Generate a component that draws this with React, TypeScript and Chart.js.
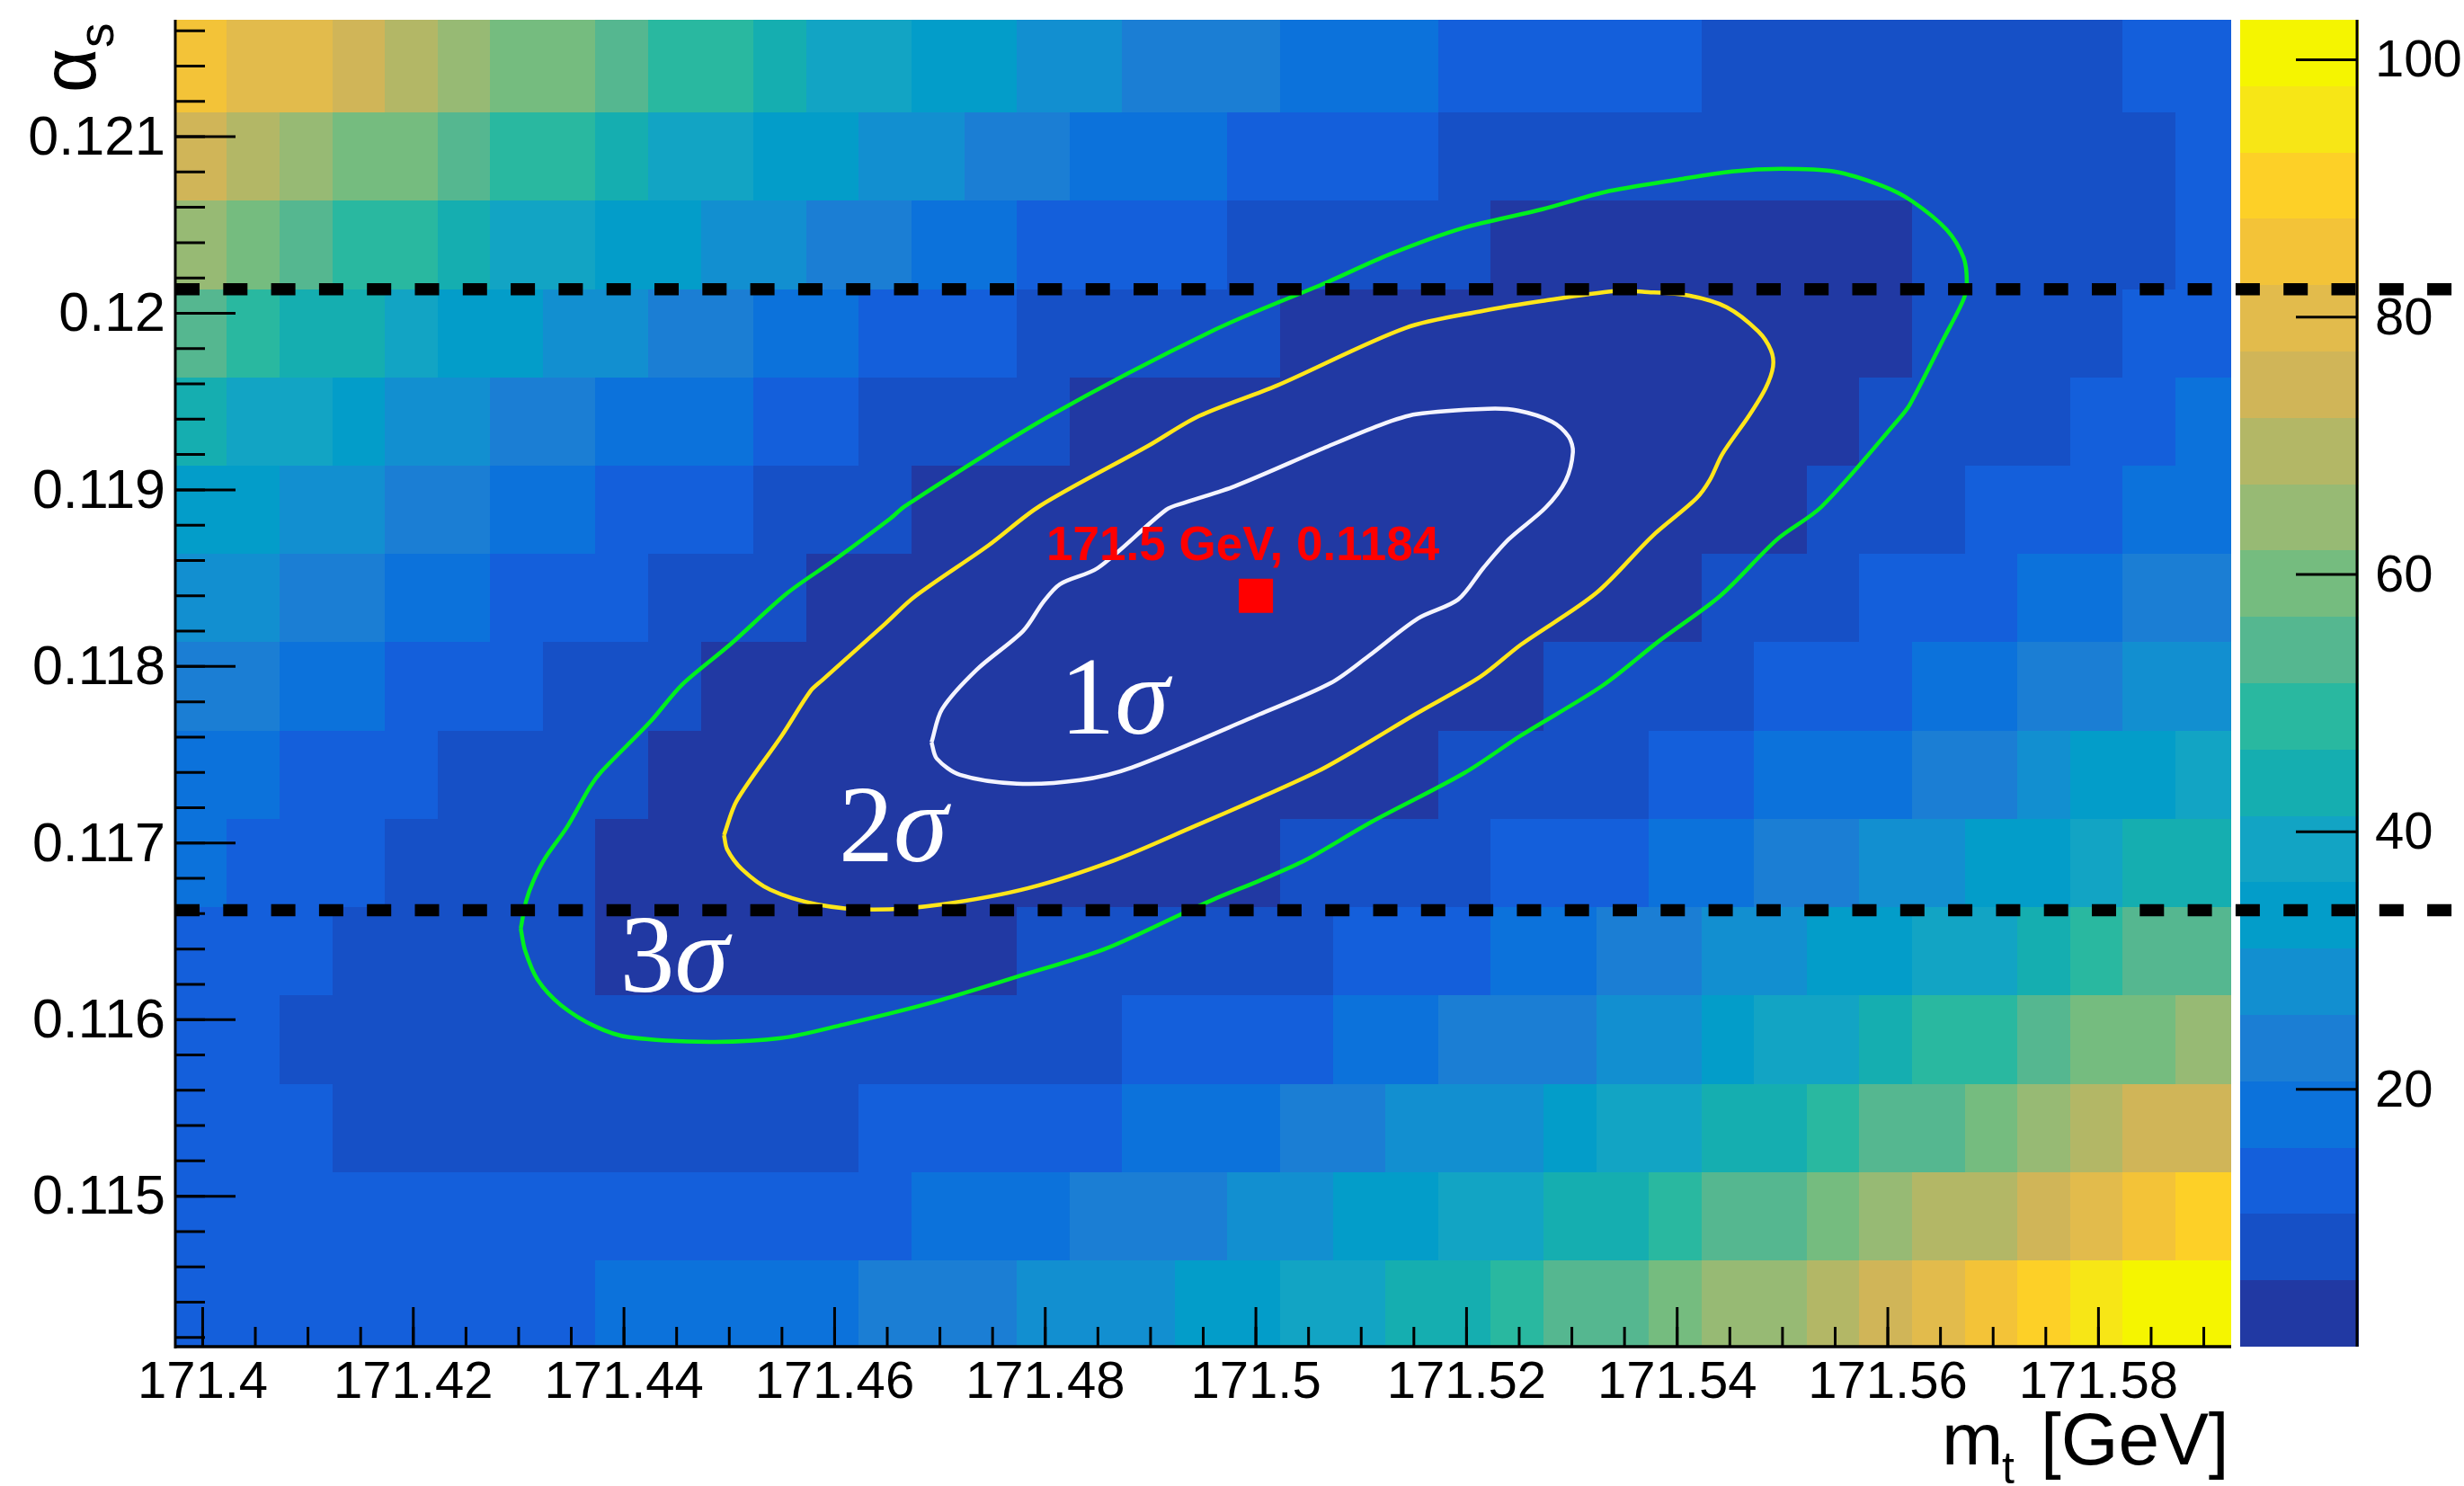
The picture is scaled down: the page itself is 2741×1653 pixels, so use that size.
import React, { useEffect, useRef } from "react";
import { Chart, registerables } from "chart.js";

Chart.register(...registerables);

const F = (n: number, v: number): number[] => Array(n).fill(v);

// Palette, lowest band first
const palette = ["#2139A3","#1650C6","#145FDB","#0C72DB","#1B7ED4","#128FD0","#039DC9","#12A4C4","#15AEB0","#29B8A0","#55B790","#75BC7F","#97BA74","#B3B766","#D0B558","#E2BB4C","#F3C338","#FDD027","#F7E616","#F5F500"];
const zMax = 103.1;

const xMin = 171.3974, xMax = 171.5926;
const yMin = 0.114148, yMax = 0.121662;
const firstColEdge = 171.3973, colWidth = 0.005;
const firstRowEdge = 0.114137, rowHeight = 0.0005;

// Heat-map rows, lowest alpha_s first
const row00 = [...F(8,13),...F(5,18),23,23,23,28,28,28,34,34,39,39,44,44,49,54,54,59,64,64,70,75,80,85,90,95,100,100];
const row01 = [...F(14,13),18,18,18,23,23,23,28,28,34,34,39,39,44,44,49,54,54,59,64,70,70,75,80,85,90];
const row02 = [13,13,13,...F(10,8),...F(5,13),18,18,18,23,23,28,28,28,34,39,39,44,44,49,54,54,59,64,70,75,75];
const row03 = [13,13,...F(16,8),...F(4,13),18,18,23,23,23,28,28,34,39,39,44,49,49,54,59,59,64];
const row04 = [13,13,13,8,8,8,8,8,...F(8,3),...F(6,8),13,13,13,18,18,23,23,28,28,34,34,39,39,44,49,54,54];
const row05 = [18,13,13,13,8,8,8,8,...F(13,3),...F(4,8),13,13,13,18,18,23,23,28,28,34,34,39,44,44];
const row06 = [18,18,13,13,13,8,8,8,8,...F(15,3),...F(4,8),13,13,18,18,18,23,23,28,34,34,39];
const row07 = [23,23,18,18,13,13,13,8,8,8,...F(16,3),...F(4,8),13,13,13,18,18,23,23,28,28];
const row08 = [28,28,23,23,18,18,13,13,13,8,8,8,...F(17,3),8,8,8,13,13,13,18,18,23,23];
const row09 = [34,34,28,28,23,23,18,18,13,13,13,8,8,8,...F(17,3),8,8,8,13,13,13,18,18];
const row10 = [44,39,39,34,28,28,23,23,18,18,18,13,13,8,8,8,8,...F(15,3),...F(4,8),13,13,18];
const row11 = [54,49,44,44,39,34,34,28,28,23,23,18,18,13,13,13,8,8,8,8,8,...F(12,3),...F(4,8),13,13];
const row12 = [64,59,54,49,49,44,39,39,34,34,28,28,23,23,18,18,13,13,13,13,8,8,8,8,8,...F(8,3),...F(5,8),13];
const row13 = [75,70,64,59,59,54,49,49,44,39,39,34,34,28,28,23,23,18,18,18,13,13,13,13,...F(14,8),13];
const row14 = [85,80,80,75,70,64,59,59,54,49,49,44,39,39,34,34,28,28,23,23,23,18,18,18,13,13,13,13,13,...F(8,8),13,13];
const heatRows = [row00,row01,row02,row03,row04,row05,row06,row07,row08,row09,row10,row11,row12,row13,row14];

// Ticks
const xMajor = [171.4,171.42,171.44,171.46,171.48,171.5,171.52,171.54,171.56,171.58];
const xLabels = ["171.4","171.42","171.44","171.46","171.48","171.5","171.52","171.54","171.56","171.58"];
const yMajor = [0.115,0.116,0.117,0.118,0.119,0.12,0.121];
const yLabels = ["0.115","0.116","0.117","0.118","0.119","0.12","0.121"];
const zMajor = [20,40,60,80,100];
const zLabels = ["20","40","60","80","100"];
const xMinorStart = 171.4, xMinorStep = 0.005, xMinorCount = 39;
const yMinorStart = 0.1142, yMinorStep = 0.0002, yMinorCount = 38;

// Contours
const green3sMt = [171.4302,171.4307,171.4314,171.4325,171.4346,171.4368,171.4379,171.4425,171.4455,171.4501,171.4555,171.4601,171.4653,171.4667,171.4801,171.4961,171.5068,171.5127,171.5196,171.5272,171.5331,171.5401,171.5452,171.5499,171.5549,171.5595,171.5623,171.5656,171.5672,171.5675,171.5672,171.5653,171.5621,171.5610,171.5537,171.5495,171.5441,171.5383,171.5329,171.5252,171.5198,171.5109,171.5047,171.5003,171.4961,171.4929,171.4856,171.4772,171.4687,171.4608,171.4549,171.4482,171.4405,171.4373,171.4340,171.4318,171.4306,171.4302];
const green3sAs = [0.116516,0.116669,0.116786,0.116913,0.117091,0.117320,0.117407,0.117687,0.117896,0.118125,0.118415,0.118608,0.118838,0.118909,0.119408,0.119907,0.120177,0.120334,0.120482,0.120589,0.120686,0.120757,0.120803,0.120818,0.120803,0.120721,0.120635,0.120472,0.120314,0.120177,0.120080,0.119856,0.119484,0.119398,0.118904,0.118720,0.118400,0.118145,0.117891,0.117610,0.117397,0.117117,0.116903,0.116786,0.116684,0.116597,0.116399,0.116241,0.116088,0.115971,0.115895,0.115874,0.115900,0.115961,0.116083,0.116226,0.116394,0.116516];
const yellow2sMt = [171.4495,171.4507,171.4550,171.4577,171.4588,171.4648,171.4676,171.4746,171.4795,171.4898,171.4946,171.5020,171.5142,171.5216,171.5272,171.5341,171.5369,171.5411,171.5447,171.5477,171.5489,171.5491,171.5484,171.5468,171.5443,171.5431,171.5418,171.5376,171.5323,171.5252,171.5213,171.5151,171.5101,171.5059,171.5003,171.4942,171.4866,171.4784,171.4702,171.4637,171.4583,171.4539,171.4512,171.4498,171.4495];
const yellow2sAs = [0.117045,0.117239,0.117610,0.117860,0.117921,0.118242,0.118395,0.118685,0.118909,0.119250,0.119418,0.119591,0.119917,0.120014,0.120070,0.120126,0.120121,0.120100,0.120034,0.119897,0.119790,0.119698,0.119576,0.119418,0.119204,0.119056,0.118950,0.118736,0.118415,0.118125,0.117941,0.117728,0.117549,0.117407,0.117254,0.117096,0.116903,0.116745,0.116653,0.116623,0.116653,0.116735,0.116852,0.116964,0.117045];
const white1sMt = [171.4692,171.4702,171.4735,171.4779,171.4798,171.4814,171.4850,171.4915,171.4933,171.4980,171.5064,171.5118,171.5152,171.5220,171.5249,171.5281,171.5297,171.5301,171.5294,171.5275,171.5240,171.5216,171.5192,171.5154,171.5107,171.5071,171.5003,171.4882,171.4833,171.4773,171.4719,171.4697,171.4692];
const white1sAs = [0.117570,0.117758,0.117982,0.118201,0.118364,0.118466,0.118558,0.118888,0.118929,0.119021,0.119235,0.119367,0.119428,0.119459,0.119449,0.119387,0.119301,0.119214,0.119051,0.118899,0.118720,0.118558,0.118379,0.118272,0.118059,0.117906,0.117728,0.117427,0.117356,0.117336,0.117386,0.117478,0.117570];

// Horizontal limits, which run past the plot and colour bar
const limitUpper = 0.120136, limitLower = 0.116619, limitXEnd = 171.6137;
const bestMt = 171.5, bestAs = 0.1184;
const bestLabel = "171.5 GeV, 0.1184";
const sigmaLabels = [
  { digit: "1", mt: 171.4814, as: 0.117621 },
  { digit: "2", mt: 171.4604, as: 0.116898 },
  { digit: "3", mt: 171.4396, as: 0.116159 },
];

const SANS = '"Liberation Sans", Arial, sans-serif';
const SERIF = '"Liberation Serif", "Times New Roman", serif';
const PLOT_TOP = 22;

const zip = (xs: number[], ys: number[]) => xs.map((x, i) => ({ x, y: ys[i] }));

const heatPlugin = {
  id: "heat",
  afterLayout(chart: any) {
    // Pin the plot's top edge: both vertical scales share it
    chart.chartArea.top = PLOT_TOP;
    chart.chartArea.height = chart.chartArea.bottom - PLOT_TOP;
    ["y", "z"].forEach((id) => {
      const s = chart.scales[id];
      s.top = PLOT_TOP;
      s.height = s.bottom - PLOT_TOP;
      s.configure();
    });
  },
  beforeDatasetsDraw(chart: any) {
    const { ctx, chartArea: a, scales } = chart;
    const { x, y, z } = scales;
    const bw = zMax / palette.length;
    ctx.save();
    heatRows.forEach((row: number[], r: number) => {
      const top = r === heatRows.length - 1 ? a.top : Math.round(y.getPixelForValue(firstRowEdge + (r + 1) * rowHeight));
      const bottom = r === 0 ? a.bottom : Math.round(y.getPixelForValue(firstRowEdge + r * rowHeight));
      row.forEach((v: number, c: number) => {
        const left = c === 0 ? a.left : Math.round(x.getPixelForValue(firstColEdge + c * colWidth));
        const right = c === row.length - 1 ? a.right : Math.round(x.getPixelForValue(firstColEdge + (c + 1) * colWidth));
        ctx.fillStyle = palette[Math.min(palette.length - 1, Math.floor(v / bw))];
        ctx.fillRect(left, top, right - left, bottom - top);
      });
    });
    // colour bar
    const barL = a.right + 10, barW = 132;
    palette.forEach((col, i) => {
      const t = Math.round(z.getPixelForValue((i + 1) * bw));
      const b = Math.round(z.getPixelForValue(i * bw));
      ctx.fillStyle = col;
      ctx.fillRect(barL, t, barW, b - t);
    });
    ctx.restore();
  },
  afterDatasetsDraw(chart: any) {
    const { ctx, chartArea: a, scales } = chart;
    const { x, y, z } = scales;
    ctx.save();
    ctx.strokeStyle = "#000";
    const line = (x1: number, y1: number, x2: number, y2: number, w: number) => {
      ctx.lineWidth = w;
      ctx.beginPath();
      ctx.moveTo(x1, y1);
      ctx.lineTo(x2, y2);
      ctx.stroke();
    };
    for (let i = 0; i < xMinorCount; i++) {
      const p = x.getPixelForValue(xMinorStart + i * xMinorStep);
      line(p, a.bottom, p, a.bottom - 22, 3);
    }
    xMajor.forEach((v) => {
      const p = x.getPixelForValue(v);
      line(p, a.bottom, p, a.bottom - 44, 3);
    });
    for (let i = 0; i < yMinorCount; i++) {
      const p = y.getPixelForValue(yMinorStart + i * yMinorStep);
      line(a.left, p, a.left + 33, p, 3);
    }
    yMajor.forEach((v) => {
      const p = y.getPixelForValue(v);
      line(a.left, p, a.left + 67, p, 3);
    });
    line(a.left, a.top, a.left, a.bottom + 2, 3);
    line(a.left - 1, a.bottom, a.right, a.bottom, 3.5);
    const barAxis = a.right + 140;
    line(barAxis, a.top, barAxis, a.bottom, 3);
    zMajor.forEach((v) => {
      const p = z.getPixelForValue(v);
      line(barAxis, p, barAxis - 68, p, 3);
    });

    // annotation texts
    ctx.textBaseline = "alphabetic";
    ctx.textAlign = "left";
    ctx.fillStyle = "#FF0000";
    ctx.font = `bold 53px ${SANS}`;
    ctx.fillText(bestLabel, x.getPixelForValue(bestMt) - 233, y.getPixelForValue(bestAs) - 40);
    ctx.fillStyle = "#FFFFFF";
    sigmaLabels.forEach((s) => {
      const px = x.getPixelForValue(s.mt), py = y.getPixelForValue(s.as);
      ctx.font = `122px ${SERIF}`;
      ctx.fillText(s.digit, px, py);
      ctx.font = `italic 122px ${SERIF}`;
      ctx.fillText("σ", px + 61, py);
    });

    // axis titles
    ctx.fillStyle = "#000";
    ctx.font = `82px ${SANS}`;
    ctx.fillText("m", 2160, 1629);
    ctx.fillText("[GeV]", 2270, 1629);
    ctx.font = `50px ${SANS}`;
    ctx.fillText("t", 2227, 1650);
    ctx.translate(106, 103);
    ctx.rotate(-Math.PI / 2);
    ctx.font = `85px ${SANS}`;
    ctx.fillText("α", 0, 0);
    ctx.font = `55px ${SANS}`;
    ctx.fillText("s", 50, 20);
    ctx.restore();
  },
};

export default function App() {
  const ref = useRef<HTMLCanvasElement>(null);
  useEffect(() => {
    const contour = (xs: number[], ys: number[], color: string) => ({
      data: zip(xs, ys),
      showLine: true,
      borderColor: color,
      borderWidth: 4.5,
      pointRadius: 0,
      tension: 0.3,
      fill: false,
      order: 2,
    });
    const limit = (v: number) => ({
      data: [{ x: xMin, y: v }, { x: limitXEnd, y: v }],
      showLine: true,
      borderColor: "#000",
      borderWidth: 13.5,
      borderDash: [27, 26.3],
      pointRadius: 0,
      clip: false,
      order: 1,
    });
    const numTicks = (vals: number[]) => (s: any) => {
      s.ticks = vals.map((value) => ({ value }));
    };
    const noPad = (s: any) => {
      s.paddingTop = 0;
      s.paddingBottom = 0;
      s.paddingLeft = 0;
      s.paddingRight = 0;
    };
    const chart = new Chart(ref.current as HTMLCanvasElement, {
      type: "scatter",
      data: {
        datasets: [
          contour(white1sMt, white1sAs, "#F4F4FF"),
          contour(yellow2sMt, yellow2sAs, "#FFE61A"),
          contour(green3sMt, green3sAs, "#00F01E"),
          limit(limitUpper),
          limit(limitLower),
          {
            data: [{ x: bestMt, y: bestAs }],
            pointStyle: "rect",
            pointRadius: 26.9,
            backgroundColor: "#FF0000",
            borderWidth: 0,
            order: 0,
          },
        ] as any,
      },
      options: {
        animation: false,
        responsive: false,
        layout: { padding: { top: 22, left: 0, right: 0, bottom: 0 } },
        plugins: { legend: { display: false }, tooltip: { enabled: false } },
        scales: {
          x: {
            type: "linear",
            min: xMin,
            max: xMax,
            afterBuildTicks: numTicks(xMajor),
            afterFit: (s: any) => { s.height = 155; noPad(s); },
            grid: { display: false },
            border: { display: false },
            ticks: {
              autoSkip: false,
              maxRotation: 0,
              padding: -2,
              color: "#000",
              font: { family: SANS, size: 58 },
              callback: (_v: any, i: number) => xLabels[i],
            },
          },
          y: {
            type: "linear",
            min: yMin,
            max: yMax,
            afterBuildTicks: numTicks(yMajor),
            afterFit: (s: any) => { s.width = 195; noPad(s); },
            grid: { display: false },
            border: { display: false },
            ticks: {
              autoSkip: false,
              padding: 3,
              labelOffset: 3,
              color: "#000",
              font: { family: SANS, size: 61 },
              callback: (_v: any, i: number) => yLabels[i],
            },
          },
          z: {
            type: "linear",
            position: "right",
            min: 0,
            max: zMax,
            afterBuildTicks: numTicks(zMajor),
            afterFit: (s: any) => { s.width = 259; noPad(s); },
            grid: { display: false },
            border: { display: false },
            ticks: {
              autoSkip: false,
              padding: 152,
              labelOffset: 3,
              color: "#000",
              font: { family: SANS, size: 58 },
              callback: (_v: any, i: number) => zLabels[i],
            },
          },
        },
      },
      plugins: [heatPlugin],
    } as any);
    return () => chart.destroy();
  }, []);
  return (
    <canvas
      ref={ref}
      width={2741}
      height={1653}
      style={{ display: "block", position: "absolute", left: 0, top: 0 }}
    />
  );
}
